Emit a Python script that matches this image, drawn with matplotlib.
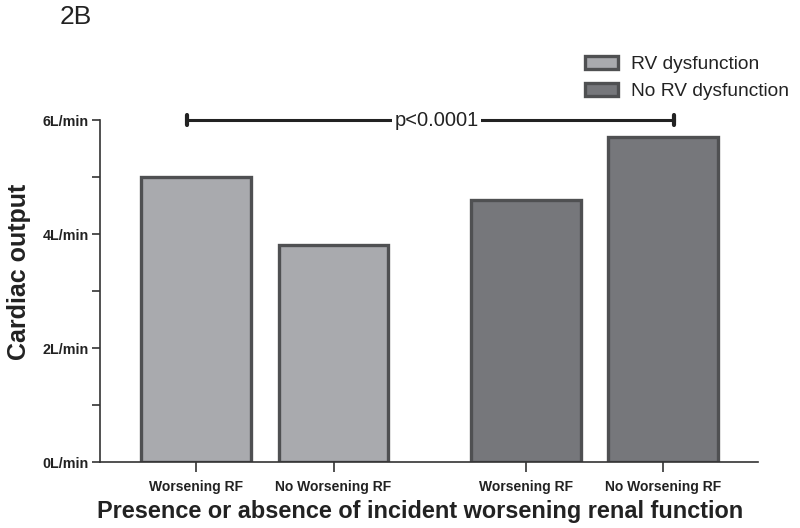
import matplotlib
matplotlib.use("Agg")
import matplotlib.pyplot as plt
from matplotlib.patches import Patch

plt.rcParams['font.family'] = ['Liberation Sans', 'DejaVu Sans']

categories = ["Worsening RF", "No Worsening RF", "Worsening RF", "No Worsening RF"]
groups = ["RV dysfunction", "No RV dysfunction"]
values = [5.0, 3.8, 4.6, 5.7]
positions = [0, 1, 2.4, 3.4]
yticks = [0, 2, 4, 6]
ytick_labels = ["0L/min", "2L/min", "4L/min", "6L/min"]
p_text = "p<0.0001"

light = "#a9aaae"
dark = "#76777b"
edge = "#4f5052"
colors = [light, light, dark, dark]

fig = plt.figure(figsize=(8, 5.28), dpi=100)
ax = fig.add_axes([0.125, 0.125, 0.8225, 0.6477])

ax.bar(positions, values, width=0.8, color=colors, edgecolor=edge, linewidth=2.4, zorder=2)

ax.set_xlim(-0.70, 4.09)
ax.set_ylim(0, 6)
ax.spines['top'].set_visible(False)
ax.spines['right'].set_visible(False)
for s in ['left', 'bottom']:
    ax.spines[s].set_linewidth(1.2)
    ax.spines[s].set_color("#333333")

ax.set_yticks(yticks)
ax.set_yticklabels(ytick_labels, fontsize=10.3, fontweight='bold', color="#222222")
ax.set_yticks([1, 3, 5], minor=True)
ax.tick_params(axis='y', which='major', length=6, width=1.2, color="#333333", pad=2)
ax.tick_params(axis='y', which='minor', length=6, width=1.2, color="#333333")
ax.set_xticks(positions)
ax.set_xticklabels(categories, fontsize=10, fontweight='bold', color="#222222")
ax.tick_params(axis='x', length=7, width=1.2, color="#333333", pad=6)

ax.set_ylabel("Cardiac output", fontsize=18, fontweight='bold', color="#222222")
ax.yaxis.set_label_coords(-0.105, 0.556)
ax.set_xlabel("Presence or absence of incident worsening renal function", fontsize=16.9,
              fontweight='bold', color="#222222")
ax.xaxis.set_label_coords(0.486, -0.11)

# significance bracket
x0, x1, yb = -0.065, 3.48, 6.0
ax.plot([x0, x1], [yb, yb], color="#222222", lw=2.2, clip_on=False, zorder=3)
ax.plot([x0, x0], [yb - 0.08, yb + 0.08], color="#222222", lw=3, clip_on=False, solid_capstyle='round', zorder=3)
ax.plot([x1, x1], [yb - 0.08, yb + 0.08], color="#222222", lw=3, clip_on=False, solid_capstyle='round', zorder=3)
ax.text(1.75, yb, p_text, fontsize=14.5, ha='center', va='center', color="#222222",
        bbox=dict(facecolor='white', edgecolor='none', pad=1.5), zorder=4, clip_on=False)

handles = [Patch(facecolor=light, edgecolor=edge, linewidth=2.4),
           Patch(facecolor=dark, edgecolor=edge, linewidth=2.4)]
fig.legend(handles, groups, loc='upper left', bbox_to_anchor=(0.71, 0.927), frameon=False,
           fontsize=13.8, handlelength=1.7, handleheight=0.72, handletextpad=0.7,
           labelspacing=0.48, labelcolor="#222222")

fig.text(0.075, 0.99, "2B", fontsize=19, ha='left', va='top', color="#222222")

fig.savefig("out.png", dpi=100)
